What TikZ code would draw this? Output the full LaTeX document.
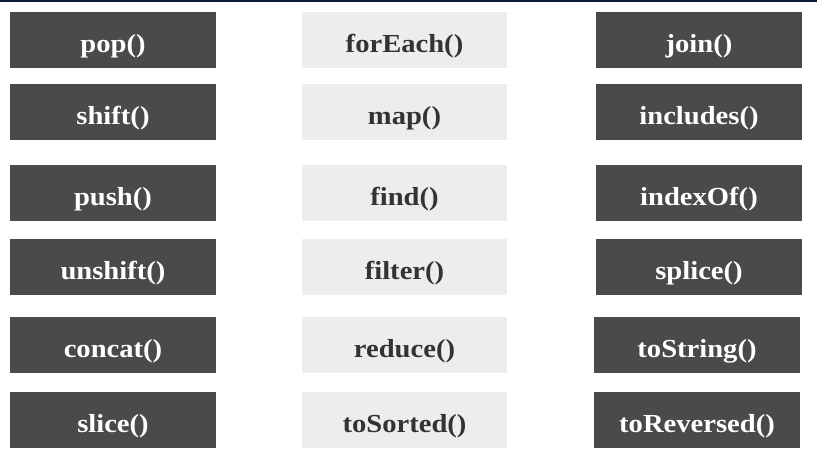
\documentclass[tikz,border=0pt]{standalone}
\usepackage{fontspec}
\setmainfont{Liberation Serif}[FakeStretch=1.1]
\definecolor{boxdark}{HTML}{4A4A4A}
\definecolor{boxlight}{HTML}{EDEDED}
\definecolor{inkdark}{HTML}{333333}
\definecolor{topline}{HTML}{0B1B38}
\tikzset{
  method/.style={rectangle, anchor=north west, inner sep=0pt, outer sep=0pt,
    minimum width=206pt, minimum height=56pt, text height=40.5pt, text depth=15.5pt,
    font=\bfseries\fontsize{26}{30}\selectfont},
  mutating/.style={method, fill=boxdark, text=white},
  iterating/.style={method, fill=boxlight, text=inkdark, minimum width=205pt},
}
\begin{document}
\begin{tikzpicture}[x=1pt, y=-1pt]
  \useasboundingbox (0,0) rectangle (817,461);
  \fill[topline] (0,0) rectangle (817,2);
  % left column
  \node[mutating] (pop)     at (10,12)  {pop()};
  \node[mutating] (shift)   at (10,84)  {shift()};
  \node[mutating] (push)    at (10,165) {push()};
  \node[mutating] (unshift) at (10,239) {unshift()};
  \node[mutating] (concat)  at (10,317) {concat()};
  \node[mutating] (slice)   at (10,392) {slice()};
  % middle column
  \node[iterating] (forEach)  at (302,12)  {forEach()};
  \node[iterating] (map)      at (302,84)  {map()};
  \node[iterating] (find)     at (302,165) {find()};
  \node[iterating] (filter)   at (302,239) {filter()};
  \node[iterating] (reduce)   at (302,317) {reduce()};
  \node[iterating] (toSorted) at (302,392) {toSorted()};
  % right column
  \node[mutating] (join)       at (596,12)  {join()};
  \node[mutating] (includes)   at (596,84)  {includes()};
  \node[mutating] (indexOf)    at (596,165) {indexOf()};
  \node[mutating] (splice)     at (596,239) {splice()};
  \node[mutating] (toString)   at (594,317) {toString()};
  \node[mutating] (toReversed) at (594,392) {toReversed()};
\end{tikzpicture}
\end{document}
